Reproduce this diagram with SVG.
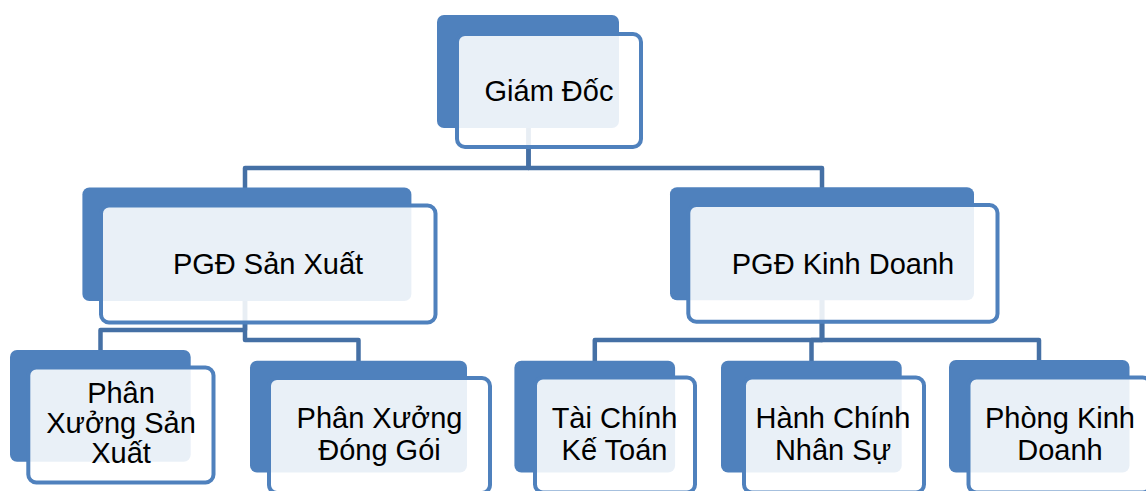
<svg xmlns="http://www.w3.org/2000/svg" width="1146" height="491" viewBox="0 0 1146 491">
<style>
.bg{fill:#4F81BD}
.fr{fill:#FFFFFF;fill-opacity:0.88;stroke:#4F81BD;stroke-width:4}
.cn{fill:none;stroke:#4570A5;stroke-width:4.5;stroke-linejoin:round}
text{font-family:"Liberation Sans",Arial,sans-serif;font-size:29px;fill:#000;text-anchor:middle}
</style>
<rect width="1146" height="491" fill="#FFFFFF"/>
<g id="connectors">
<path class="cn" d="M528.5,128 V168 H245 V188"/>
<path class="cn" d="M528.5,128 V168 H822 V188"/>
<path class="cn" d="M245,301 V330 H100.5 V350"/>
<path class="cn" d="M245,301 V340 H358.5 V361"/>
<path class="cn" d="M822,300 V340 H594.8 V361"/>
<path class="cn" d="M822,300 V340 H811.5 V361"/>
<path class="cn" d="M822,300 V340 H1039 V360"/>
</g>
<g id="giam-doc">
<rect class="bg" x="437" y="15" width="182" height="113" rx="7"/>
<rect class="fr" x="457" y="34" width="184" height="113" rx="8"/>
<text x="549" y="101">Giám Đốc</text>
</g>
<g id="pgd-san-xuat">
<rect class="bg" x="82.4" y="187.4" width="329" height="113.6" rx="7"/>
<rect class="fr" x="101" y="205.5" width="334.5" height="117" rx="8"/>
<text x="268" y="274">PGĐ Sản Xuất</text>
</g>
<g id="pgd-kinh-doanh">
<rect class="bg" x="670" y="187.3" width="304" height="113" rx="7"/>
<rect class="fr" x="688.3" y="205" width="309.2" height="116.7" rx="8"/>
<text x="843" y="273.5">PGĐ Kinh Doanh</text>
</g>
<g id="phan-xuong-san-xuat">
<rect class="bg" x="10" y="350" width="180.7" height="111.7" rx="7"/>
<rect class="fr" x="28.3" y="367.5" width="185.2" height="115" rx="8"/>
<text x="121" y="403">Phân</text>
<text x="121" y="433">Xưởng Sản</text>
<text x="121" y="463">Xuất</text>
</g>
<g id="phan-xuong-dong-goi">
<rect class="bg" x="250" y="360.7" width="217" height="111.8" rx="7"/>
<rect class="fr" x="269" y="378" width="221" height="115" rx="8"/>
<text x="379.5" y="428.3">Phân Xưởng</text>
<text x="379.5" y="460">Đóng Gói</text>
</g>
<g id="tai-chinh-ke-toan">
<rect class="bg" x="514.4" y="360.7" width="160.7" height="111.8" rx="7"/>
<rect class="fr" x="535" y="377.5" width="160" height="115" rx="8"/>
<text x="614.5" y="428.3">Tài Chính</text>
<text x="614.5" y="459.5">Kế Toán</text>
</g>
<g id="hanh-chinh-nhan-su">
<rect class="bg" x="721" y="360.7" width="180.7" height="111.8" rx="7"/>
<rect class="fr" x="744" y="377.5" width="180" height="115" rx="8"/>
<text x="833" y="428.3">Hành Chính</text>
<text x="833" y="459.5">Nhân Sự</text>
</g>
<g id="phong-kinh-doanh">
<rect class="bg" x="949" y="360" width="180.5" height="112.5" rx="7"/>
<rect class="fr" x="968.5" y="377.5" width="182" height="115" rx="8"/>
<text x="1060" y="427.5">Phòng Kinh</text>
<text x="1060" y="459.5">Doanh</text>
</g>
</svg>
